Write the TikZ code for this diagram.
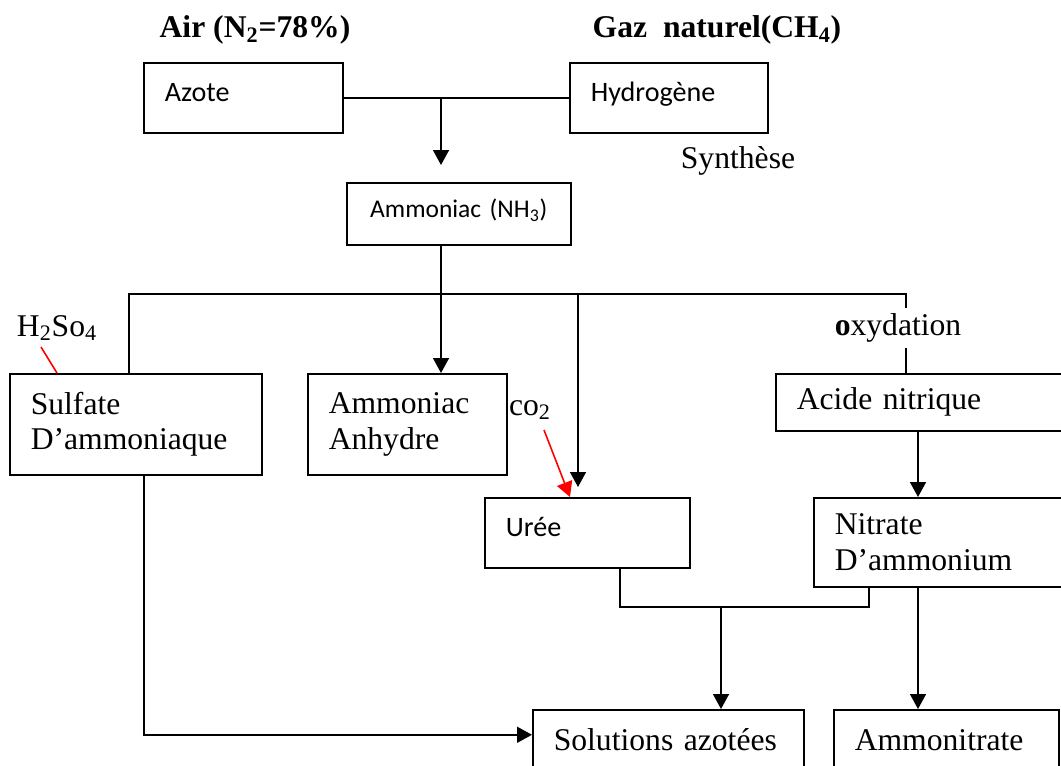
\documentclass[tikz,border=0pt]{standalone}
\usepackage{fontspec}
\setmainfont{Liberation Serif}
\newfontfamily\calibri{Carlito}
\usetikzlibrary{arrows.meta}
\tikzset{
  box/.style={draw, anchor=north west, inner xsep=0.42cm, inner ysep=0pt, align=left, font=\fontsize{18}{20.3}\selectfont},
  calbox/.style={box, text height=0.42cm, text depth=0.26cm, font=\calibri\fontsize{16}{19}\selectfont},
  titre/.style={inner sep=0pt, font=\bfseries\fontsize{18}{20}\selectfont},
  lbl/.style={inner sep=0pt, font=\fontsize{18}{20}\selectfont},
  >={Triangle[length=0.3cm, width=0.32cm]}
}
\begin{document}
\begin{tikzpicture}[x=0.02cm, y=-0.02cm, line width=0.9pt]
    \useasboundingbox (0,0) rectangle (1061,766);
    % Matières premières
    \node[titre] (air) at (255,30) {Air (N\textsubscript{2}=78\%)};
    \node[titre] (gaz) at (717,30) {Gaz~ naturel(CH\textsubscript{4})};
    \node[calbox, text width=3.14cm, minimum height=1.4cm] (azote) at (143,62) {Azote};
    \node[calbox, text width=3.12cm, minimum height=1.4cm] (hydro) at (569,62) {Hydrogène};
    \node[lbl] (synth) at (738,161) {Synthèse};
    \node[calbox, align=center, text width=3.64cm, minimum height=1.24cm, font=\calibri\fontsize{14.5}{16}\selectfont] (nh3) at (346,182) {Ammoniac (NH\textsubscript{3})};

    % Produits
    \node[lbl] (h2so4) at (57,328) {H\textsubscript{2}So\textsubscript{4}};
    \node[lbl, minimum height=0.76cm] (oxy) at (898,328) {\textbf{o}xydation};
    \node[box, text width=4.2cm, minimum height=2.02cm] (sulfate) at (9,373) {Sulfate\\D’ammoniaque};
    \node[box, text width=3.14cm, minimum height=2.02cm] (anhydre) at (307,373) {Ammoniac\\Anhydre};
    \node[box, text width=5.06cm, minimum height=1.14cm] (acide) at (775,373) {Acide nitrique};
    \node[lbl] (co2) at (530,410) {co\textsubscript{2}};
    \node[calbox, text width=3.26cm, minimum height=1.4cm] (uree) at (484,497) {Urée};
    \node[box, text width=4.3cm, minimum height=1.78cm] (nitrate) at (813,497) {Nitrate\\D’ammonium};
    \node[box, text width=4.58cm, minimum height=1.2cm] (solutions) at (532,709) {Solutions azotées};
    \node[box, text width=3.66cm, minimum height=1.2cm] (ammonitrate) at (833,709) {Ammonitrate};

    % Liaisons
    \coordinate (jn) at (441,97);
    \draw (azote.east) -- (hydro.west);
    \draw[->, shorten >=0.34cm] (jn) -- (jn |- nh3.north);

    \coordinate (bus) at (441,294);
    \coordinate (busW) at (129,294);
    \coordinate (busE) at (906,294);
    \coordinate (bu) at (578,294);
    \draw (nh3.south -| bus) -- (bus);
    \draw (sulfate.north -| busW) -- (busW) -- (busE) -- (busE |- oxy.north);
    \draw (busE |- oxy.south) -- (busE |- acide.north);
    \draw[->] (bus) -- (bus |- anhydre.north);
    \draw[->, shorten >=0.2cm] (bu) -- (bu |- uree.north);

    % Réactifs
    \draw[red, ->] ([xshift=0.28cm, yshift=-0.4cm]co2.center) -- ([xshift=1.72cm]uree.north west);
    \draw[red] ([xshift=-0.32cm, yshift=-0.38cm]h2so4.center) -- ([xshift=0.96cm]sulfate.north west);

    \coordinate (nd) at (918,0);
    \draw[->] (acide.south -| nd) -- (nitrate.north -| nd);
    \draw[->] (nitrate.south -| nd) -- (ammonitrate.north -| nd);

    \coordinate (sd) at (144,0);
    \draw[->] (sulfate.south -| sd) |- ([yshift=0.1cm]solutions.west);

    \coordinate (ub) at (620,607);
    \coordinate (nb) at (869,607);
    \coordinate (mrg) at (721,607);
    \draw (uree.south -| ub) -- (ub) -- (nb) -- (nitrate.south -| nb);
    \draw[->] (mrg) -- (solutions.north -| mrg);
\end{tikzpicture}
\end{document}
